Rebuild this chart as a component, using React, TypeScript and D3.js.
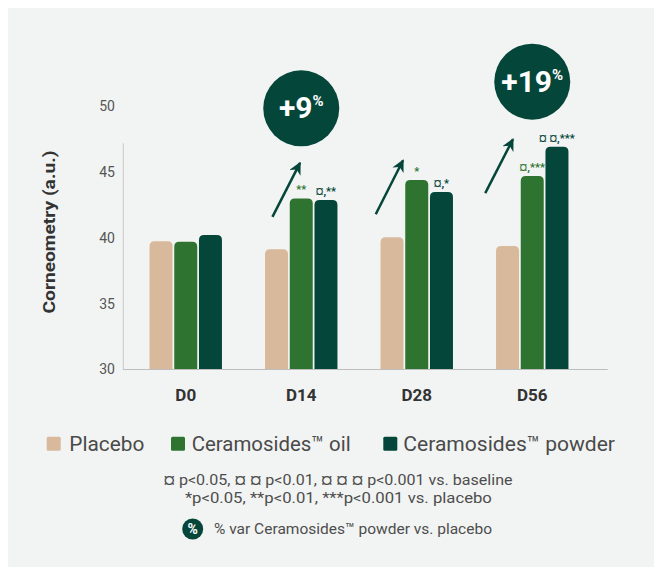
import React from "react";
import * as d3 from "d3";

// ---- data ----
const categories = ["D0", "D14", "D28", "D56"];
const seriesNames = ["Placebo", "Ceramosides™ oil", "Ceramosides™ powder"];
const placebo = [39.74, 39.13, 40.05, 39.38];
const oil = [39.71, 43.0, 44.4, 44.7];
const powder = [40.22, 42.88, 43.49, 46.93];
const oilSig = ["", "**", "*", "¤,***"];
const powderSig = ["", "¤,**", "¤,*", "¤ ¤,***"];
const yTicks = [30, 35, 40, 45, 50];
const pctVar: (string | null)[] = [null, "+9", null, "+19"];
const pctLevel: (number | null)[] = [null, 49.85, null, 51.87];
const arrowFrom: (number | null)[] = [null, 41.6, 41.8, 43.4];
const arrowTo: (number | null)[] = [null, 45.7, 45.9, 47.5];
const footnotes = [
  "¤ p<0.05, ¤ ¤ p<0.01, ¤ ¤ ¤ p<0.001 vs. baseline",
  "*p<0.05, **p<0.01, ***p<0.001 vs. placebo",
];
const pctNote = "% var Ceramosides™ powder vs. placebo";
const yLabel = "Corneometry (a.u.)";

// ---- layout / style ----
const W = 654;
const H = 567;
const colors = ["#d9b99c", "#2e7430", "#05463a"];
const FONT = "Roboto, 'Open Sans', sans-serif";
const arrowTailDx = [0, -28.8, -41, -47];
const arrowHeadDx = [0, -1.2, -13.7, -19.3];

function topRounded(x: number, y: number, w: number, h: number, r: number) {
  const rr = Math.min(r, w / 2, h);
  return `M${x},${y + h}V${y + rr}Q${x},${y} ${x + rr},${y}H${x + w - rr}Q${x + w},${y} ${x + w},${y + rr}V${y + h}Z`;
}

export default function App() {
  const y = d3.scaleLinear().domain([30, 50]).range([369.5, 106.3]);
  const x0 = d3
    .scaleBand<string>()
    .domain(categories)
    .range([128, 590])
    .paddingInner(0.373)
    .paddingOuter(0.1865);
  const x1 = d3
    .scaleBand<number>()
    .domain([0, 1, 2])
    .range([0, x0.bandwidth()])
    .paddingInner(0.07);
  const series = [placebo, oil, powder];
  const sigs = [null, oilSig, powderSig];

  const legendSq = [46.7, 171, 383.3];
  const legendTx = [69.3, 191.7, 403.3];
  const legendLen = [75, 159, 211.7];

  return (
    <svg
      width={W}
      height={H}
      style={{ position: "absolute", left: 0, top: 0, fontFamily: FONT }}
    >
      <defs>
        <marker
          id="arr"
          viewBox="0 0 10 10"
          refX="9"
          refY="5"
          markerWidth="5"
          markerHeight="5"
          markerUnits="strokeWidth"
          orient="auto"
        >
          <path d="M0,0L10,5L0,10L3,5Z" fill="#05463a" />
        </marker>
      </defs>
      <rect x={0} y={0} width={W} height={H} fill="#ffffff" />
      <rect x={8} y={8} width={W - 8} height={H - 8} fill="#f2f4f3" />

      {/* y axis line */}
      <line x1={123.3} x2={123.3} y1={y(47.2)} y2={y(30)} stroke="#c8c8c8" strokeWidth={1} />
      {yTicks.map((t) => (
        <text
          key={t}
          x={115}
          y={y(t)}
          dy="0.35em"
          textAnchor="end"
          fontSize={14}
          fill="#555"
        >
          {t}
        </text>
      ))}
      <text
        transform={`translate(49,232) rotate(-90)`}
        textAnchor="middle"
        dy="0.35em"
        fontSize={16}
        fontWeight="bold"
        fill="#333"
        textLength={163}
        lengthAdjust="spacingAndGlyphs"
      >
        {yLabel}
      </text>

      {/* bars */}
      {categories.map((c, ci) => (
        <g key={c} transform={`translate(${x0(c)},0)`}>
          {series.map((s, si) => {
            const bx = x1(si)!;
            const by = y(s[ci]);
            return (
              <path
                key={si}
                d={topRounded(bx, by, x1.bandwidth(), y(30) - by, 5)}
                fill={colors[si]}
              />
            );
          })}
          {sigs.map((sg, si) =>
            sg && sg[ci] ? (
              <text
                key={"s" + si}
                x={x1(si)! + x1.bandwidth() / 2}
                y={y(series[si][ci]) - 5}
                textAnchor="middle"
                fontSize={11}
                fontWeight="bold"
                fill={colors[si]}
              >
                {sg[ci]}
              </text>
            ) : null
          )}
        </g>
      ))}

      {/* x axis */}
      <line x1={123} x2={607.7} y1={y(30)} y2={y(30)} stroke="#bdbdbd" strokeWidth={1} />
      {categories.map((c) => (
        <text
          key={c}
          x={x0(c)! + x0.bandwidth() / 2}
          y={400.5}
          textAnchor="middle"
          fontSize={17}
          fontWeight="bold"
          fill="#333"
        >
          {c}
        </text>
      ))}

      {/* arrows */}
      {categories.map((c, ci) => {
        const f = arrowFrom[ci];
        const t = arrowTo[ci];
        if (f == null || t == null) return null;
        const cx = x0(c)! + x0.bandwidth() / 2;
        return (
          <line
            key={"a" + c}
            x1={cx + arrowTailDx[ci]}
            y1={y(f)}
            x2={cx + arrowHeadDx[ci]}
            y2={y(t)}
            stroke="#05463a"
            strokeWidth={2.5}
            markerEnd="url(#arr)"
          />
        );
      })}

      {/* percent circles */}
      {categories.map((c, ci) => {
        const p = pctVar[ci];
        const lv = pctLevel[ci];
        if (!p || lv == null) return null;
        const cx = x0(c)! + x0.bandwidth() / 2;
        const cy = y(lv);
        return (
          <g key={"p" + c}>
            <circle cx={cx} cy={cy} r={38} fill="#05463a" />
            <text x={cx} y={cy + 10} textAnchor="middle" fill="#fff" fontWeight="bold">
              <tspan fontSize={30}>{p}</tspan>
              <tspan fontSize={15} dy={-12}>%</tspan>
            </text>
          </g>
        );
      })}

      {/* legend */}
      {seriesNames.map((n, i) => (
        <g key={n}>
          <rect
            x={legendSq[i]}
            y={436.7}
            width={14}
            height={14}
            rx={1.5}
            fill={colors[i]}
          />
          <text
            x={legendTx[i]}
            y={450.5}
            fontSize={21}
            fill="#4a4a4a"
            textLength={legendLen[i]}
            lengthAdjust="spacingAndGlyphs"
          >
            {n}
          </text>
        </g>
      ))}

      {/* footnotes */}
      <text x={338} y={485} textAnchor="middle" fontSize={15.5} fill="#4d4d4d" textLength={349} lengthAdjust="spacingAndGlyphs">
        {footnotes[0]}
      </text>
      <text x={338.4} y={502.5} textAnchor="middle" fontSize={15.5} fill="#4d4d4d" textLength={307} lengthAdjust="spacingAndGlyphs">
        {footnotes[1]}
      </text>
      <circle cx={192.7} cy={529} r={10.5} fill="#05463a" />
      <text x={192.7} y={529} dy="0.36em" textAnchor="middle" fontSize={14} fontWeight="bold" fill="#fff">
        %
      </text>
      <text x={214} y={534} fontSize={15} fill="#4d4d4d" textLength={278} lengthAdjust="spacingAndGlyphs">
        {pctNote}
      </text>
    </svg>
  );
}
